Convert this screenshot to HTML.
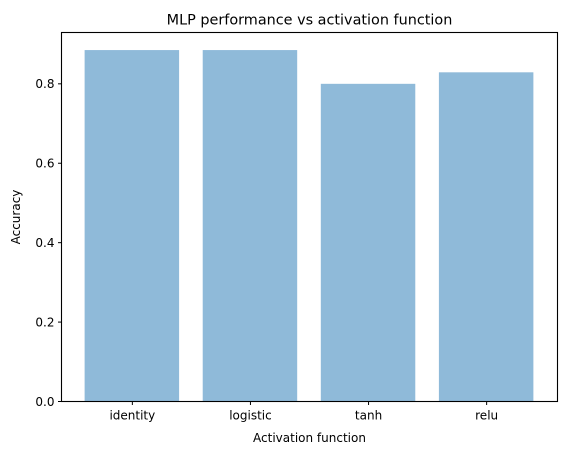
<!DOCTYPE html>
<html><head><meta charset="utf-8"><style>
body{margin:0;background:#fff;font-family:"Liberation Sans","DejaVu Sans",sans-serif}
</style></head><body>
<svg id="chart" width="567" height="455" xmlns="http://www.w3.org/2000/svg" font-family="DejaVu Sans, Liberation Sans, sans-serif"></svg>
<script>
const categories=["identity","logistic","tanh","relu"];
const accuracy=[0.885,0.885,0.80,0.829];
const yTicks=[0,0.2,0.4,0.6,0.8];
const yTickLabels=["0.0","0.2","0.4","0.6","0.8"];
const svg=document.getElementById('chart');
const NS="http://www.w3.org/2000/svg";
const L=61.5,R=557.5,T=32.5,B=401.5;
const ymax=Math.max(...accuracy)*1.05;
const x=v=>L+(v+0.6)/4.2*(R-L);
const y=v=>B-v/ymax*(B-T);
function mk(tag,attrs,txt){const e=document.createElementNS(NS,tag);for(const k in attrs)e.setAttribute(k,attrs[k]);if(txt!==undefined)e.textContent=txt;svg.appendChild(e);return e;}
categories.forEach((c,i)=>{
 const b=mk('rect',{x:x(i-0.4)-0.5,y:y(accuracy[i]),width:x(i+0.4)-x(i-0.4),height:B-y(accuracy[i]),fill:'#8fbad9'});
 
 
 const t=mk('line',{x1:x(i),x2:x(i),y1:B,y2:B+3.5,stroke:'#000','stroke-width':1});
 
 
 const l=mk('text',{x:x(i),y:B+18,'text-anchor':'middle','font-size':12},c);
 
 
});
yTicks.forEach((v,i)=>{
 const t=mk('line',{x1:L-3.5,x2:L,y1:y(v),y2:y(v),stroke:'#000','stroke-width':1});
 
 
 const l=mk('text',{x:L-7,y:y(v)+4.3,'text-anchor':'end','font-size':12},yTickLabels[i]);
 
 
});
const f=mk('rect',{x:L,y:T,width:R-L,height:B-T,fill:'none',stroke:'#000','stroke-width':1.1});


const ti=mk('text',{x:(L+R)/2,y:T-8,'text-anchor':'middle','font-size':14.4},'MLP performance vs activation function');


const xt=mk('text',{x:(L+R)/2,y:442,'text-anchor':'middle','font-size':12},'Activation function');


const yt=mk('text',{x:20,y:(T+B)/2,'text-anchor':'middle','font-size':12,transform:`rotate(-90 20 ${(T+B)/2})`},'Accuracy');


</script>
</body></html>
